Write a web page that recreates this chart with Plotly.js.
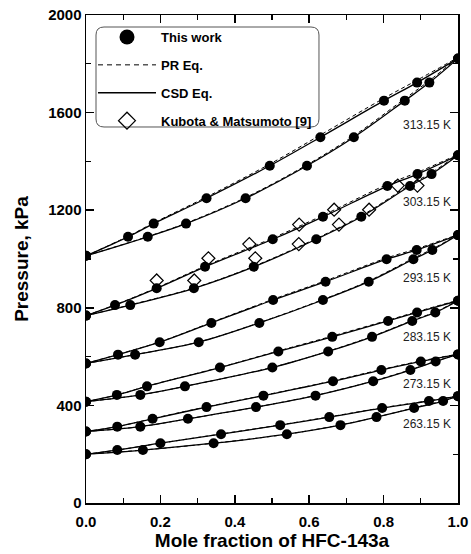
<!DOCTYPE html>
<html>
<head>
<meta charset="utf-8">
<script src="https://cdn.plot.ly/plotly-3.0.1.min.js"></script>
<style>html,body{margin:0;padding:0;background:#fff;}#chart{width:471px;height:554px;}</style>
</head>
<body>
<div id="chart"></div>
<script>
// Temperatures
const temps = ['263.15 K', '273.15 K', '283.15 K', '293.15 K', '303.15 K', '313.15 K'];

// This work: pressure (kPa), liquid (bubble) and vapour (dew) mole fractions of HFC-143a
const P263 = [200, 217, 245, 282, 319, 352, 389, 418, 438];
const x263 = [0, 0.084, 0.200, 0.363, 0.522, 0.654, 0.796, 0.922, 1];
const y263 = [0, 0.153, 0.343, 0.540, 0.684, 0.781, 0.882, 0.960, 1];

const P273 = [293, 313, 345, 393, 440, 499, 545, 580, 609];
const x273 = [0, 0.084, 0.179, 0.324, 0.477, 0.664, 0.794, 0.900, 1];
const y273 = [0, 0.146, 0.274, 0.457, 0.617, 0.772, 0.872, 0.940, 1];

const P283 = [415, 443, 478, 555, 621, 681, 746, 781, 829];
const x283 = [0, 0.083, 0.164, 0.360, 0.517, 0.662, 0.812, 0.890, 1];
const y283 = [0, 0.146, 0.266, 0.501, 0.651, 0.769, 0.877, 0.939, 1];

const P293 = [572, 608, 659, 738, 832, 907, 999, 1037, 1098];
const x293 = [0, 0.086, 0.198, 0.337, 0.503, 0.644, 0.808, 0.889, 1];
const y293 = [0, 0.132, 0.303, 0.466, 0.637, 0.760, 0.880, 0.931, 1];

const P303 = [768, 811, 880, 968, 1081, 1173, 1299, 1348, 1425];
const x303 = [0, 0.078, 0.190, 0.320, 0.502, 0.637, 0.810, 0.891, 1];
const y303 = [0, 0.119, 0.290, 0.451, 0.619, 0.740, 0.871, 0.929, 1];

const P313 = [1013, 1091, 1145, 1249, 1382, 1499, 1649, 1723, 1822];
const x313 = [0, 0.113, 0.182, 0.324, 0.494, 0.630, 0.801, 0.890, 1];
const y313 = [0, 0.166, 0.269, 0.429, 0.594, 0.720, 0.857, 0.923, 1];

// PR equation curves (bubble / dew pressures at the same compositions)
const prB263 = [200, 217, 245, 283, 320, 353, 390, 419, 439];
const prD263 = [200, 217, 245, 282, 320, 352, 390, 419, 439];
const prB273 = [293, 313, 346, 394, 441, 501, 547, 582, 610];
const prD273 = [293, 313, 345, 393, 441, 500, 546, 581, 610];
const prB283 = [415, 443, 479, 556, 623, 684, 749, 784, 831];
const prD283 = [415, 443, 478, 556, 622, 683, 748, 783, 831];
const prB293 = [572, 609, 660, 740, 835, 911, 1004, 1042, 1100];
const prD293 = [572, 608, 660, 739, 834, 910, 1003, 1041, 1100];
const prB303 = [768, 812, 882, 971, 1086, 1179, 1306, 1355, 1428];
const prD303 = [768, 812, 881, 970, 1084, 1177, 1304, 1354, 1428];
const prB313 = [1013, 1093, 1148, 1254, 1389, 1508, 1659, 1733, 1826];
const prD313 = [1013, 1092, 1147, 1252, 1386, 1505, 1657, 1731, 1826];

// Kubota & Matsumoto [9], 303.15 K
const kubP = [912, 1003, 1061, 1141, 1202, 1301];
const kubX = [0.190, 0.329, 0.439, 0.573, 0.667, 0.838];
const kubY = [0.291, 0.455, 0.572, 0.680, 0.761, 0.891];

// Label positions (kPa) for the isotherm names
const labelP = [322, 487, 679, 921, 1233, 1549];

const Ps = [P263, P273, P283, P293, P303, P313];
const Xs = [x263, x273, x283, x293, x303, x313];
const Ys = [y263, y273, y283, y293, y303, y313];
const PRB = [prB263, prB273, prB283, prB293, prB303, prB313];
const PRD = [prD263, prD273, prD283, prD293, prD303, prD313];

const traces = [];
const FONT = 'Liberation Sans, Arial, Helvetica, sans-serif';

for (let i = 0; i < temps.length; i++) {
  // PR dashed
  traces.push({x: Xs[i], y: PRB[i], mode: 'lines', line: {color: '#000', width: 1, dash: '4px,3px', shape: 'spline'}, showlegend: false, hoverinfo: 'skip'});
  traces.push({x: Ys[i], y: PRD[i], mode: 'lines', line: {color: '#000', width: 1, dash: '4px,3px', shape: 'spline'}, showlegend: false, hoverinfo: 'skip'});
  // CSD solid
  traces.push({x: Xs[i], y: Ps[i], mode: 'lines', line: {color: '#000', width: 1.3, shape: 'spline'}, showlegend: false, hoverinfo: 'skip'});
  traces.push({x: Ys[i], y: Ps[i], mode: 'lines', line: {color: '#000', width: 1.3, shape: 'spline'}, showlegend: false, hoverinfo: 'skip'});
}
// Kubota diamonds
traces.push({x: kubX.concat(kubY), y: kubP.concat(kubP), mode: 'markers', marker: {symbol: 'diamond-open', size: 10, color: '#000', line: {width: 1.2}}, showlegend: false});
// This work points
for (let i = 0; i < temps.length; i++) {
  traces.push({x: Xs[i].concat(Ys[i]), y: Ps[i].concat(Ps[i]), mode: 'markers', marker: {symbol: 'circle', size: 10, color: '#000'}, showlegend: false, name: temps[i]});
}
// Legend entries
traces.push({x: [null], y: [null], mode: 'markers', marker: {symbol: 'circle', size: 15, color: '#000'}, name: 'This work', legendgroup: 'a', legendrank: 1});
traces.push({x: [null], y: [null], mode: 'lines', line: {color: '#000', width: 1, dash: '5px,4px'}, name: 'PR Eq.', legendgroup: 'b', legendrank: 2});
traces.push({x: [null], y: [null], mode: 'lines', line: {color: '#000', width: 1.3}, name: 'CSD Eq.', legendgroup: 'c', legendrank: 3});
traces.push({x: [null], y: [null], mode: 'markers', marker: {symbol: 'diamond-open', size: 13, color: '#000', line: {width: 1.3}}, name: 'Kubota & Matsumoto [9]', legendgroup: 'd', legendrank: 4});

const annotations = temps.map((t, i) => ({
  x: 1, y: labelP[i], xref: 'x', yref: 'y', text: t, showarrow: false,
  xanchor: 'right', yanchor: 'middle', xshift: -5,
  font: {family: FONT, size: 12, color: '#222'}
}));

// rounded legend box in paper coordinates
const L = 86, R = 458, T = 15, B = 503, W = R - L, H = B - T;
function px(x) { return ((x - L) / W).toFixed(4); }
function py(y) { return ((B - y) / H).toFixed(4); }
const bx0 = 96, bx1 = 319, by0 = 27, by1 = 127, r = 8;
const boxPath = 'M' + px(bx0 + r) + ',' + py(by0) + ' L' + px(bx1 - r) + ',' + py(by0) +
  ' Q' + px(bx1) + ',' + py(by0) + ' ' + px(bx1) + ',' + py(by0 + r) +
  ' L' + px(bx1) + ',' + py(by1 - r) +
  ' Q' + px(bx1) + ',' + py(by1) + ' ' + px(bx1 - r) + ',' + py(by1) +
  ' L' + px(bx0 + r) + ',' + py(by1) +
  ' Q' + px(bx0) + ',' + py(by1) + ' ' + px(bx0) + ',' + py(by1 - r) +
  ' L' + px(bx0) + ',' + py(by0 + r) +
  ' Q' + px(bx0) + ',' + py(by0) + ' ' + px(bx0 + r) + ',' + py(by0) + ' Z';

const axisCommon = {
  showgrid: false, zeroline: false, showline: true, linecolor: '#000', linewidth: 1.5,
  ticks: 'inside', ticklen: 8, tickwidth: 1.5, tickcolor: '#000', mirror: 'allticks',
  tickfont: {family: FONT, size: 15, color: '#000', weight: 'bold'}
};

const layout = {
  width: 471, height: 554,
  margin: {l: L, r: 471 - R, t: T, b: 554 - B},
  paper_bgcolor: '#fff', plot_bgcolor: '#fff',
  showlegend: true,
  xaxis: Object.assign({}, axisCommon, {
    range: [0, 1], dtick: 0.2, tick0: 0, tickformat: '.1f', ticklabelstandoff: 4,
    minor: {dtick: 0.1, ticks: 'inside', ticklen: 5, tickwidth: 1.2, tickcolor: '#000'},
    title: {text: 'Mole fraction of HFC-143a', font: {family: FONT, size: 19, color: '#000', weight: 'bold'}, standoff: 5}
  }),
  yaxis: Object.assign({}, axisCommon, {
    range: [0, 2000], dtick: 400, tick0: 0,
    minor: {dtick: 200, ticks: 'inside', ticklen: 5, tickwidth: 1.2, tickcolor: '#000'},
    title: {text: 'Pressure, kPa', font: {family: FONT, size: 19, color: '#000', weight: 'bold'}, standoff: 14}
  }),
  legend: {
    x: (bx0 - 3 - L) / W, y: (B - by0 + 5) / H, xanchor: 'left', yanchor: 'top',
    bgcolor: 'rgba(0,0,0,0)', borderwidth: 0, traceorder: 'grouped', tracegroupgap: 8,
    itemwidth: 58, itemsizing: 'trace',
    font: {family: FONT, size: 13, color: '#000', weight: 'bold'}
  },
  shapes: [{type: 'path', xref: 'paper', yref: 'paper', path: boxPath, line: {color: '#555', width: 1}, fillcolor: 'rgba(0,0,0,0)', layer: 'above'}],
  annotations: annotations
};

Plotly.newPlot('chart', traces, layout, {displayModeBar: false, staticPlot: true});
</script>
</body>
</html>
